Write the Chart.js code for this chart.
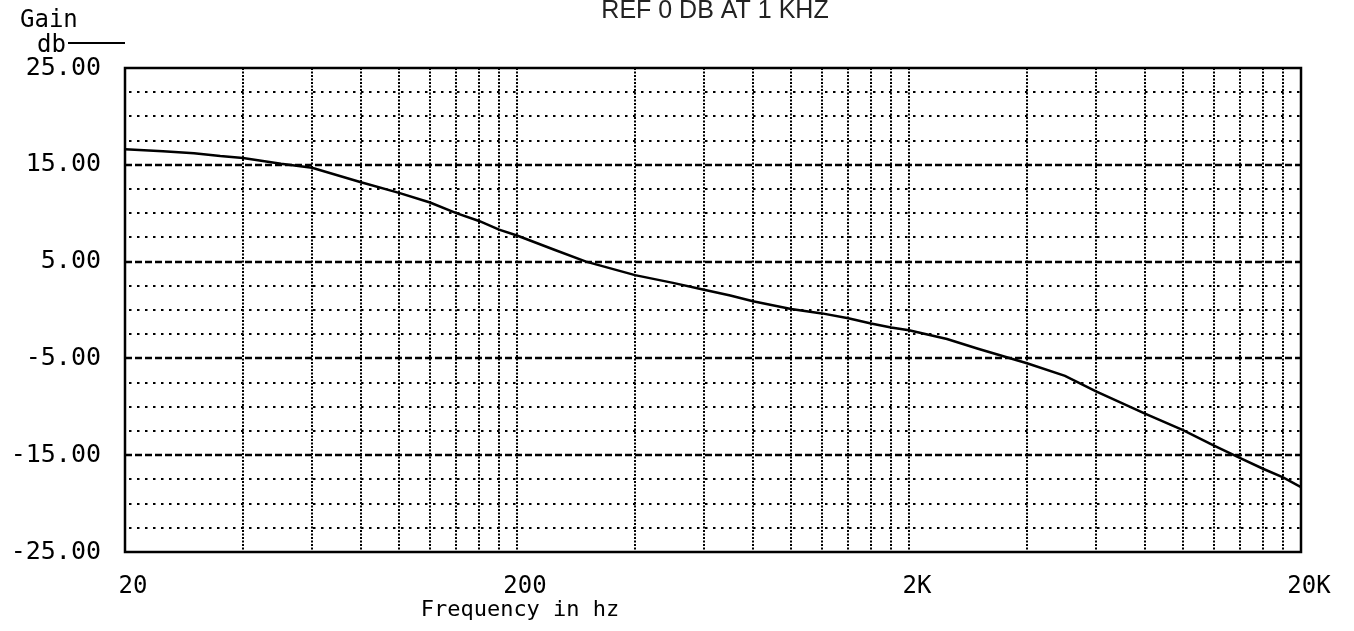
<!DOCTYPE html>
<html>
<head>
<meta charset="utf-8">
<title>Gain vs frequency</title>
<script src="https://cdn.jsdelivr.net/npm/chart.js@4.4.1/dist/chart.umd.min.js"></script>
<style>
  html, body { margin: 0; padding: 0; background: #fff; }
  #wrap { width: 1354px; height: 631px; }
</style>
</head>
<body>
<div id="wrap"><canvas id="myChart"></canvas></div>
<script>
// response curve (dB relative to 1 kHz)
const freqs = [20, 25, 30, 35, 40, 50, 60, 80, 100, 120, 140, 160, 180, 200, 250, 300, 400, 500, 600, 700, 800,
    1000, 1200, 1400, 1600, 1800, 2000, 2500, 3000, 4000, 5000, 6000, 8000, 10000, 12000, 14000, 16000, 18000, 20000];
const gains = [16.6, 16.4, 16.2, 15.9, 15.7, 15.1, 14.7, 13.2, 12.1, 11.1, 10.0, 9.2, 8.3, 7.7, 6.2, 5.0, 3.6, 2.8, 2.1, 1.5, 0.9,
    0.1, -0.35, -0.85, -1.4, -1.8, -2.1, -3.0, -4.0, -5.5, -6.8, -8.4, -10.7, -12.4, -14.0, -15.3, -16.4, -17.3, -18.3];

// axis ticks
const xTickValues = [20, 200, 2000, 20000];
const xTickLabels = ['20', '200', '2K', '20K'];
const yTickValues = [-25, -15, -5, 5, 15, 25];

// grid of the scope screen
const xGridLines = [40, 60, 80, 100, 120, 140, 160, 180, 200,
    400, 600, 800, 1000, 1200, 1400, 1600, 1800, 2000,
    4000, 6000, 8000, 10000, 12000, 14000, 16000, 18000];
const yMajorLines = [15, 5, -5, -15];
const yMinorLines = [22.5, 20, 17.5, 12.5, 10, 7.5, 2.5, 0, -2.5, -7.5, -10, -12.5, -17.5, -20, -22.5];

const monoFont = '"DejaVu Sans Mono", "Liberation Mono", monospace';

function hLine(ctx, x1, x2, y) {
    ctx.beginPath();
    ctx.moveTo(x1, y);
    ctx.lineTo(x2, y);
    ctx.stroke();
}

const scopeGrid = {
    id: 'scopeGrid',
    beforeDatasetsDraw: (chart) => {
        const ctx = chart.ctx;
        const a = chart.chartArea;
        const xs = chart.scales.x;
        const ys = chart.scales.y;
        ctx.save();
        ctx.strokeStyle = '#000';

        // vertical dotted lines
        ctx.lineWidth = 2;
        ctx.setLineDash([2, 1.5]);
        xGridLines.forEach(f => {
            const px = Math.round(xs.getPixelForValue(f));
            ctx.beginPath();
            ctx.moveTo(px, a.top);
            ctx.lineTo(px, a.bottom);
            ctx.stroke();
        });

        // minor horizontal dotted lines
        ctx.lineWidth = 2;
        ctx.setLineDash([2.5, 5.5]);
        yMinorLines.forEach(v => {
            const py = Math.round(ys.getPixelForValue(v));
            hLine(ctx, a.left + 4, a.right, py);
        });

        // major horizontal dashed lines
        ctx.lineWidth = 2.5;
        ctx.setLineDash([7, 3]);
        yMajorLines.forEach(v => {
            const py = Math.round(ys.getPixelForValue(v));
            hLine(ctx, a.left, a.right, py);
        });
        ctx.restore();
    },
    afterDraw: (chart) => {
        const ctx = chart.ctx;
        const a = chart.chartArea;
        ctx.save();
        // frame
        ctx.strokeStyle = '#000';
        ctx.lineWidth = 2.5;
        ctx.setLineDash([]);
        ctx.strokeRect(a.left, a.top, a.right - a.left, a.bottom - a.top);

        ctx.fillStyle = '#000';
        ctx.textBaseline = 'alphabetic';

        // y axis caption
        ctx.font = '24px ' + monoFont;
        ctx.textAlign = 'left';
        ctx.fillText('Gain', 20, 27);
        ctx.fillText('db', 37, 52);
        ctx.lineWidth = 2;
        hLine(ctx, 68, a.left, 43);

        // x axis caption, sits under the 200 Hz label on the original
        ctx.font = '22px ' + monoFont;
        ctx.textAlign = 'center';
        ctx.fillText('Frequency in hz', 520, 616);

        // title
        ctx.font = '25px "Liberation Sans", Arial, sans-serif';
        ctx.fillStyle = '#222';
        ctx.fillText('REF 0 DB AT 1 KHZ', (a.left + a.right) / 2 + 2, 17.5);
        ctx.restore();
    }
};

const chart = new Chart(document.getElementById('myChart').getContext('2d'), {
    type: 'line',
    data: {
        datasets: [{
            label: 'Gain',
            data: freqs.map((f, i) => ({ x: f, y: gains[i] })),
            borderColor: '#000',
            borderWidth: 2.5,
            pointRadius: 0,
            tension: 0,
            fill: false
        }]
    },
    options: {
        responsive: true,
        maintainAspectRatio: false,
        animation: false,
        layout: { padding: { top: 68, right: 53, left: 0, bottom: 0 } },
        plugins: {
            legend: { display: false },
            tooltip: { enabled: false }
        },
        scales: {
            x: {
                type: 'logarithmic',
                min: 20,
                max: 20000,
                grid: { display: false, drawTicks: false },
                border: { display: false },
                afterBuildTicks: (scale) => {
                    scale.ticks = xTickValues.map(v => ({ value: v }));
                },
                afterFit: (scale) => { scale.height = 79; },
                ticks: {
                    autoSkip: false,
                    maxRotation: 0,
                    padding: 20,
                    labelOffset: 8,
                    color: '#000',
                    font: { family: monoFont, size: 24 },
                    callback: (value) => xTickLabels[xTickValues.indexOf(value)]
                }
            },
            y: {
                min: -25,
                max: 25,
                grid: { display: false, drawTicks: false },
                border: { display: false },
                afterBuildTicks: (scale) => {
                    scale.ticks = yTickValues.map(v => ({ value: v }));
                },
                afterFit: (scale) => { scale.width = 125; },
                ticks: {
                    padding: 24,
                    color: '#000',
                    font: { family: monoFont, size: 25 },
                    callback: (value) => value.toFixed(2)
                }
            }
        }
    },
    plugins: [scopeGrid]
});
</script>
</body>
</html>
